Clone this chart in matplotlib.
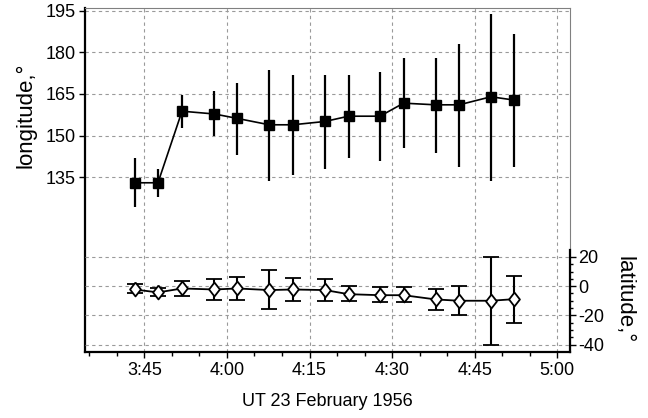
import numpy as np
import pandas as pd
import matplotlib
matplotlib.use("Agg")
import matplotlib.pyplot as plt
import matplotlib.dates as mdates
from matplotlib.ticker import FuncFormatter, FixedLocator

# observation times (UT, 23 Feb 1956)
times = ["03:43:15", "03:47:29", "03:51:51", "03:57:43", "04:01:53",
         "04:07:42", "04:11:57", "04:17:49", "04:22:05", "04:27:48",
         "04:32:05", "04:37:54", "04:42:10", "04:47:57", "04:52:12"]

lon = [133, 133, 158.8, 157.8, 156.2, 153.9, 153.9, 155.1, 157, 157,
       161.7, 161.1, 161.1, 164, 162.8]
lon_hi = [142, 138.1, 164.8, 166, 168.8, 173.6, 171.8, 171.8, 172, 173,
          177.8, 177.8, 182.9, 193.7, 186.7]
lon_lo = [124.1, 127.9, 152.8, 150, 142.9, 133.8, 135.8, 138.1, 142, 140.8,
          145.7, 143.9, 138.7, 133.8, 138.7]

lat = [-2.3, -4.3, -1.6, -2.3, -1.6, -2.7, -2.3, -2.7, -5.5, -6.2,
       -6.2, -9.1, -10, -10, -8.9]
lat_hi = [1.2, -1.6, 3.6, 4.8, 6.2, 10.7, 5.7, 5.2, 0, -0.9,
          -0.9, -1.8, 0, 20, 6.8]
lat_lo = [-5, -6.6, -6.6, -9.6, -9.6, -15.8, -10.3, -10.3, -10.3, -11.2,
          -11.2, -16.4, -19.9, -40, -25.1]

plt.rcParams['font.family'] = ['Liberation Sans', 'DejaVu Sans']
plt.rcParams['axes.unicode_minus'] = False

t = mdates.date2num(pd.to_datetime(["1956-02-23 " + s for s in times]))
lon = np.array(lon); lat = np.array(lat)
lon_err = [lon - np.array(lon_lo), np.array(lon_hi) - lon]
lat_err = [lat - np.array(lat_lo), np.array(lat_hi) - lat]

fig = plt.figure(figsize=(6.48, 4.18), dpi=100)
ax = fig.add_axes([85/648, 1 - 352/418, 485/648, 344/418])
ax2 = ax.twinx()

# longitude: filled squares, no caps
ax.errorbar(t, lon, yerr=lon_err, fmt='s-', color='black', ms=7,
            lw=1.2, elinewidth=1.6, capsize=0, zorder=3)

# latitude: open diamonds with caps
diamond = [(0, 1), (0.78, 0), (0, -1), (-0.78, 0), (0, 1)]
ax2.errorbar(t, lat, yerr=lat_err, fmt='-', marker=diamond, color='black',
             mfc='white', mec='black', mew=1.3, ms=10, lw=1.3, elinewidth=1.5,
             capsize=6, capthick=1.5, zorder=3)

x0 = mdates.date2num(pd.Timestamp("1956-02-23 03:34:14"))
x1 = mdates.date2num(pd.Timestamp("1956-02-23 05:02:18"))
ax.set_xlim(x0, x1)
ax.set_ylim(72, 196)
ax2.set_ylim(-45.07, 190.3)

ax.xaxis.set_major_locator(mdates.MinuteLocator(byminute=[0, 15, 30, 45]))
ax.xaxis.set_minor_locator(mdates.MinuteLocator(byminute=range(0, 60, 5)))
ax.xaxis.set_major_formatter(FuncFormatter(
    lambda v, p: "%d:%02d" % (mdates.num2date(v).hour, mdates.num2date(v).minute)))

ax.set_yticks([135, 150, 165, 180, 195])
ax2.set_yticks([20, 0, -20, -40])
ax2.yaxis.set_minor_locator(FixedLocator(np.arange(-40, 21, 5)))

grid_kw = dict(color='#9a9a9a', linestyle=(0, (3, 3)), linewidth=0.8)
ax.grid(True, axis='both', which='major', **grid_kw)
ax2.grid(True, axis='y', which='major', **grid_kw)

ax.tick_params(axis='both', which='major', labelsize=13, length=4, width=1, pad=3)
ax.tick_params(axis='x', which='minor', length=3, width=1)
ax2.tick_params(axis='y', which='major', labelsize=13, length=4, width=1, pad=2)
ax2.tick_params(axis='y', which='minor', length=2.5, width=1)

for s in ['top', 'right']:
    ax.spines[s].set_color('#808080')
    ax.spines[s].set_linewidth(0.8)
for s in ['left', 'bottom']:
    ax.spines[s].set_linewidth(1.6)
for s in ['top', 'left', 'bottom']:
    ax2.spines[s].set_visible(False)
ax2.spines['right'].set_linewidth(1.6)
ax2.spines['right'].set_bounds(-45.07, 25)

fig.text(26/648, 1 - 115/418, "longitude,°", rotation=90,
         ha='center', va='center', fontsize=16)
fig.text(624/648, 1 - 300/418, "latitude,°", rotation=270,
         ha='center', va='center', fontsize=16)
fig.text(327/648, 1 - 402/418, "UT 23 February 1956",
         ha='center', va='center', fontsize=13)

fig.savefig("out.png", dpi=100)
